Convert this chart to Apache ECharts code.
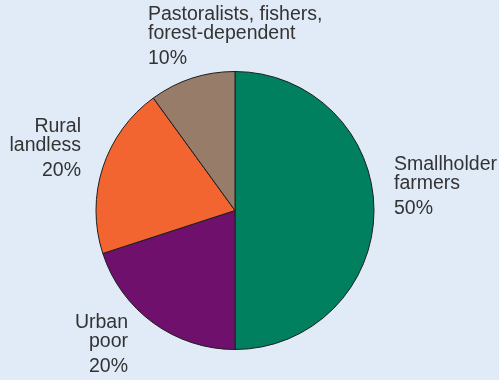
<!DOCTYPE html>
<html>
<head>
<meta charset="utf-8">
<script src="https://cdn.jsdelivr.net/npm/echarts@6/dist/echarts.min.js"></script>
<style>
  html, body { margin: 0; padding: 0; background: #e0ebf7; }
  #chart { width: 499px; height: 380px; }
</style>
</head>
<body>
<div id="chart"></div>
<script>
// data
const groups = ['Smallholder\nfarmers', 'Urban\npoor', 'Rural\nlandless', 'Pastoralists, fishers,\nforest-dependent'];
const shares = [50, 20, 20, 10];
const colors = ['#00805f', '#6e106c', '#f26531', '#967c69'];

// label placement (left/right anchor, top of text block)
const labelX = [394, 128, 81, 148];
const labelY = [155, 313, 117, 5];
const labelAlign = ['left', 'right', 'right', 'left'];

const chart = echarts.init(document.getElementById('chart'));

chart.setOption({
  backgroundColor: '#e0ebf7',
  animation: false,
  series: [
    {
      type: 'pie',
      center: [235, 210.5],
      radius: 139,
      startAngle: 90,
      clockwise: true,
      data: groups.map((g, i) => ({
        name: g,
        value: shares[i],
        itemStyle: { color: colors[i] }
      })),
      itemStyle: {
        borderColor: '#1e1e1e',
        borderWidth: 1
      },
      emphasis: { disabled: true },
      labelLine: { show: false },
      label: {
        show: true,
        position: 'outside',
        alignTo: 'none',
        overflow: 'none',
        width: 250,
        formatter: p => {
          const lines = p.name.split('\n').map(l => '{n|' + l + '}');
          return lines.join('\n') + '\n{p|' + p.value + '%}';
        },
        rich: {
          n: {
            fontFamily: 'Liberation Sans, Arial, sans-serif',
            fontSize: 19.5,
            lineHeight: 19,
            color: '#333333'
          },
          p: {
            fontFamily: 'Liberation Sans, Arial, sans-serif',
            fontSize: 19.5,
            lineHeight: 31,
            color: '#333333'
          }
        }
      },
      labelLayout: params => ({
        x: labelX[params.dataIndex],
        y: labelY[params.dataIndex],
        align: labelAlign[params.dataIndex],
        verticalAlign: 'top'
      })
    }
  ]
});
</script>
</body>
</html>
